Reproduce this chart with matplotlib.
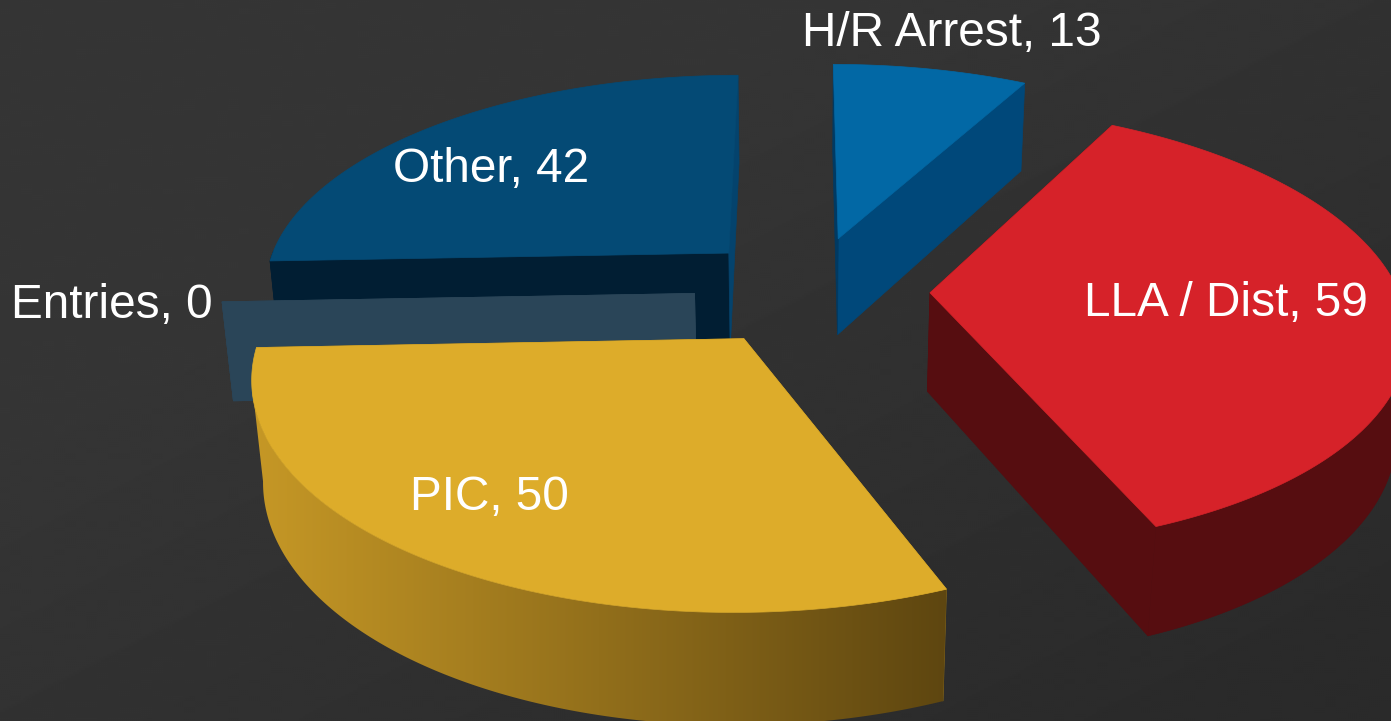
# coding=utf-8

import numpy as np
import matplotlib
matplotlib.use('Agg')
from matplotlib import pyplot as plt
from matplotlib.patches import Polygon

plt.rcParams['font.family'] = ['Liberation Sans', 'DejaVu Sans']

categories = ['H/R Arrest', 'LLA / Dist', 'PIC', 'Entries', 'Other']
values = [13, 59, 50, 0, 42]

# ground plane offset of every slice (explosion), x and towards viewer
explode_x = [0.084, 0.275, -0.115, -0.223, -0.155]
explode_y = [-0.291, -0.033, 0.171, -0.03, -0.2206]

top_colors = ['#0268a5', '#d62229', '#ddac2a', '#2a4558', '#044a75']
first_wall = ['#003a63', '#560d10', '#8a6a1a', '#2a4558', '#011e33']
second_wall = ['#00487a', '#560d10', '#8a6a1a', '#2a4558', '#04436d']
label_pos = [(952, 34), (1226, 304), (489, 498), (112, 306), (491, 170)]
draw_order = [4, 3, 0, 1, 2]

# camera
cx, cy = 800.0, 300.0
A, B, C = 475.0, 220.0, 101.0
k, m = 0.155, 0.02
R = 0.993


def project(X, Y, low=False):
    X = np.asarray(X, dtype=float)
    Y = np.asarray(Y, dtype=float)
    w = 1 - k * Y
    if low:
        return cx + A * X / (w + m), cy + (B * Y + C) / (w + m)
    return cx + A * X / w, cy + B * Y / w


def ring(i, t):
    return explode_x[i] + R * np.cos(t), explode_y[i] - R * np.sin(t)


def quad(ax, xs, ys, color, z):
    ax.add_patch(Polygon(np.column_stack([xs, ys]), closed=True, facecolor=color,
                         edgecolor=color, linewidth=0.5, zorder=z))


fig = plt.figure(figsize=(13.91, 7.21), dpi=100)
ax = fig.add_axes([0, 0, 1, 1])

# background
yy, xx = np.mgrid[0:1:361j, 0:1:696j]
bg = 0x35 - (0x35 - 0x2a) * np.clip((xx * 0.8 + yy * 0.8 - 0.5), 0, 1)
ax.imshow(bg, cmap='gray', vmin=0, vmax=255, extent=[0, 1391, 721, 0], aspect='auto', zorder=0,
          interpolation='bilinear')

# side of the gold slice goes dark from left to right
gold_left = np.array([0xc6, 0x98, 0x26]) / 255.0
gold_right = np.array([0x5e, 0x46, 0x10]) / 255.0
shade = np.linspace(0, 1, 300)[None, :, None]
gold_ramp = gold_left + (gold_right - gold_left) * shade

total = float(sum(values))
starts = 90 - np.cumsum([0] + values[:-1]) / total * 360
ends = starts - np.array(values) / total * 360

z = 1
for i in draw_order:
    t1, t2 = np.radians(starts[i]), np.radians(ends[i])
    ts = np.linspace(t1, t2, max(int(abs(t2 - t1) / 0.01), 2))
    rx, ry = ring(i, ts)
    ox, oy = explode_x[i], explode_y[i]

    # radial walls
    for t, col in [(t2 if i != 4 else t1, first_wall[i]), (t1 if i != 4 else t2, second_wall[i])]:
        ex, ey = ring(i, t)
        if i == 0 and t == t1:
            col = first_wall[i]
        elif i == 0:
            col = second_wall[i]
        xs_top, ys_top = project([ox, ex], [oy, ey])
        xs_low, ys_low = project([ox, ex], [oy, ey], low=True)
        quad(ax, [xs_top[0], xs_top[1], xs_low[1], xs_low[0]],
             [ys_top[0], ys_top[1], ys_low[1], ys_low[0]], col, z)
        z += 1

    # outer wall, only the part that faces the viewer
    tx, ty = project(rx, ry)
    lx, ly = project(rx, ry, low=True)
    front = np.sin(ts) <= 0.02
    if front.any():
        if i == 2:
            # stop at the leftmost points so the silhouette stays tangent
            a = np.argmin(tx) + 1
            b = np.argmin(lx) + 1
            wall = np.column_stack([np.r_[tx[:a], lx[:b][::-1]], np.r_[ty[:a], ly[:b][::-1]]])
            im = ax.imshow(gold_ramp, extent=[wall[:, 0].min(), wall[:, 0].max(), 721, 0], aspect='auto', zorder=z)
            patch = Polygon(wall, closed=True, transform=ax.transData)
            im.set_clip_path(patch)
        else:
            wall = np.column_stack([np.r_[tx[front], lx[front][::-1]], np.r_[ty[front], ly[front][::-1]]])
            quad(ax, wall[:, 0], wall[:, 1], first_wall[i], z)
    z += 1

    # top face
    if values[i] > 0:
        ax0, ay0 = project(ox, oy)
        quad(ax, np.r_[ax0, tx], np.r_[ay0, ty], top_colors[i], z)
        z += 1

for i in range(len(categories)):
    ax.text(label_pos[i][0], label_pos[i][1], '%s, %d' % (categories[i], values[i]), color='white',
            fontsize=34.4, ha='center', va='center', zorder=100)

ax.set_xlim(0, 1391)
ax.set_ylim(721, 0)
ax.axis('off')

fig.savefig('out.png', dpi=100)
